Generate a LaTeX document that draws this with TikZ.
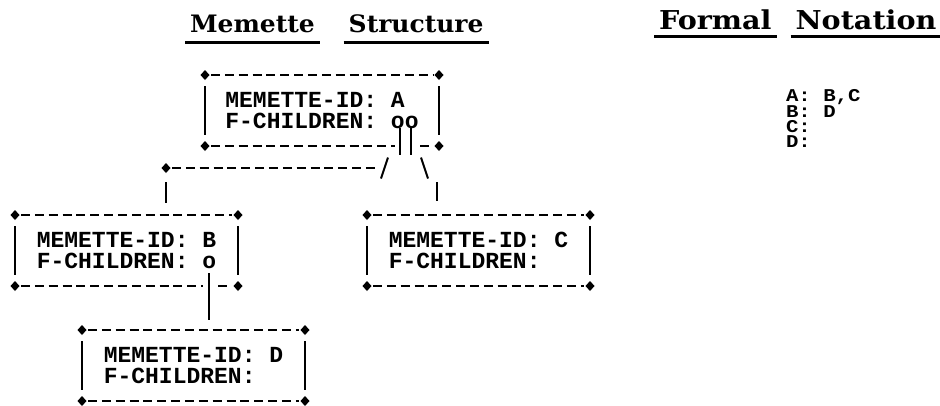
\documentclass[tikz,border=0pt]{standalone}
\usepackage{fontspec}
\usetikzlibrary{positioning}
\newfontfamily\titlefont{DejaVu Serif}[FakeStretch=1.04]
\newfontfamily\wtitlefont{DejaVu Serif}[FakeStretch=1.1]
\newfontfamily\memfont{Liberation Mono}
\newfontfamily\formfont{Liberation Mono}[FakeStretch=1.15]
\newcommand\dotcorner[1]{\fill (#1) +(-4.5,0) -- +(0,5) -- +(4.5,0) -- +(0,-5) -- cycle;}

\begin{document}
\begin{tikzpicture}[x=1pt, y=-1pt, line width=2pt,
    title/.style={font=\titlefont\bfseries\fontsize{24}{24}\selectfont, inner xsep=4pt, inner ysep=9pt},
    wide title/.style={title, font=\wtitlefont\bfseries\fontsize{26}{26}\selectfont, inner ysep=6pt},
    uline/.style={line width=2.8pt},
    memette/.style={font=\memfont\bfseries\fontsize{23}{21}\selectfont, align=left,
      anchor=north west, minimum width=221pt, minimum height=69pt, inner sep=0pt},
    rim/.style={line width=2.4pt, dash pattern=on 9pt off 4.85pt, shorten <=6pt, shorten >=6pt}]
  \useasboundingbox (0,0) rectangle (940,405);

  \node[title, anchor=base west] (t-memette) at (185,32) {Memette};
  \node[title, base right=24pt of t-memette] (t-structure) {Structure};
  \node[wide title, anchor=base west] (t-formal) at (654,29) {Formal};
  \node[wide title, base right=14pt of t-formal] (t-notation) {Notation};
  \foreach \t in {t-memette, t-structure, t-formal, t-notation}
    \draw[uline] (\t.south west) -- (\t.south east);

  \node[memette, minimum width=232pt] (mA) at (205,75) {MEMETTE-ID: A\\F-CHILDREN: oo};
  \node[memette] (mB) at (15,215) {MEMETTE-ID: B\\F-CHILDREN: o};
  \node[memette] (mC) at (367,215) {MEMETTE-ID: C\\F-CHILDREN:};
  \node[memette] (mD) at (82,330) {MEMETTE-ID: D\\F-CHILDREN:};

  \node[font=\formfont\bfseries\fontsize{18}{15}\selectfont, align=left,
    anchor=north west, inner sep=0pt] (forms) at (785,88) {A: B,C\\B: D\\C:\\D:};

  \foreach \m in {mA, mB, mC, mD} {
    \draw[rim] (\m.north west) -- (\m.north east);
    \draw ([yshift=-11pt]\m.north west) -- ([yshift=11pt]\m.south west);
    \draw ([yshift=-11pt]\m.north east) -- ([yshift=11pt]\m.south east);
    \foreach \c in {north west, north east, south west, south east}
      {\dotcorner{\m.\c}}
  }
  \draw[rim] (mC.south west) -- (mC.south east);
  \draw[rim] (mD.south west) -- (mD.south east);
  \draw[rim, shorten >=0pt] (mA.south west) -- ([xshift=-44pt]mA.south east);
  \draw[rim, shorten <=0pt, shorten >=0pt] ([xshift=-19pt]mA.south east) -- ([xshift=-9pt]mA.south east);
  \draw[rim, shorten >=0pt] (mB.south west) -- ([xshift=-35pt]mB.south east);
  \draw[rim, shorten <=0pt, shorten >=0pt] ([xshift=-20pt]mB.south east) -- ([xshift=-11pt]mB.south east);

  \coordinate (kid-a1) at (400,128);
  \coordinate (kid-a2) at (411,128);
  \coordinate (kid-b) at (209,273);
  \coordinate (fork-l) at (166,168);
  \coordinate (fork-r) at (437,168);
  \coordinate (vee-l) at (384.5,168);
  \coordinate (vee-r) at (424.5,168);

  \draw[shorten >=-9pt] (kid-a1) -- (kid-a1 |- mA.south);
  \draw[shorten >=-9pt] (kid-a2) -- (kid-a2 |- mA.south);
  \draw (vee-l) +(3.5,-10.5) -- +(-3.5,10.5);
  \draw (vee-r) +(-3.5,-10.5) -- +(3.5,10.5);
  \draw[rim, shorten <=6pt, shorten >=10pt] (fork-l) -- (vee-l);
  \dotcorner{fork-l}
  \draw[shorten <=14pt, shorten >=12pt] (fork-l) -- (fork-l |- mB.north);
  \draw[shorten <=14pt, shorten >=14pt] (fork-r) -- (fork-r |- mC.north);
  \draw[shorten >=10pt] (kid-b) -- (kid-b |- mD.north);
\end{tikzpicture}
\end{document}
